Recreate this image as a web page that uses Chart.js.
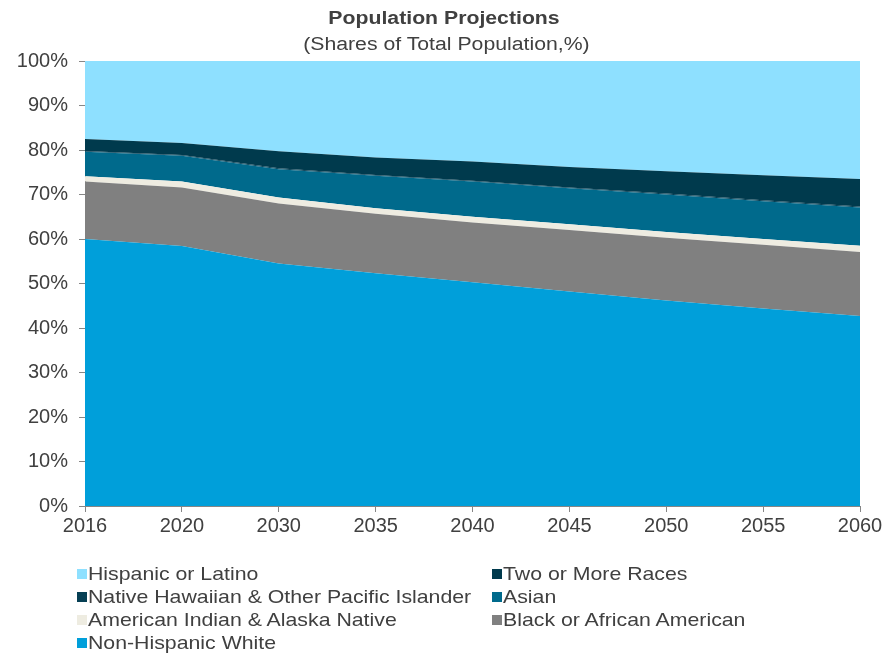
<!DOCTYPE html>
<html>
<head>
<meta charset="utf-8">
<script src="https://cdn.jsdelivr.net/npm/chart.js@4.4.1/dist/chart.umd.min.js"></script>
<style>
  html, body { margin: 0; padding: 0; background: #ffffff; }
  #wrap { position: relative; width: 896px; height: 654px; font-family: "Liberation Sans", Arial, sans-serif; color: #404040; }
  #c { position: absolute; left: 0; top: 0; }
  .title { position: absolute; left: 0; width: 896px; text-align: center; }
  .title span { display: inline-block; transform: scaleX(1.18); transform-origin: center; }
  #t1 { top: 8px; font-size: 18px; font-weight: bold; color: #404040; margin-left: -4px; }
  #t2 { top: 34px; font-size: 18px; color: #404040; margin-left: -2px; }
  .leg { position: absolute; font-size: 19px; line-height: 22px; white-space: nowrap; color: #404040; transform: scaleX(1.12); transform-origin: left center; }
  .sw { position: absolute; width: 10px; height: 10px; }
</style>
</head>
<body>
<div id="wrap">
  <canvas id="c" width="896" height="654"></canvas>
  <div class="title" id="t1"><span>Population Projections</span></div>
  <div class="title" id="t2"><span>(Shares of Total Population,%)</span></div>
  <div id="legend"></div>
</div>
<script>
// Categories (years)
const years = ["2016", "2020", "2030", "2035", "2040", "2045", "2050", "2055", "2060"];

// Shares of total population (%) — stacked bottom to top
const nonHispanicWhite = [60.0, 58.4, 54.5, 52.3, 50.3, 48.2, 46.2, 44.4, 42.7];
const blackAfricanAmerican = [12.9, 13.2, 13.5, 13.4, 13.4, 13.8, 14.1, 14.3, 14.4];
const americanIndianAlaska = [1.2, 1.3, 1.3, 1.2, 1.3, 1.3, 1.3, 1.3, 1.4];
const asian = [5.5, 5.8, 6.4, 7.3, 7.9, 8.1, 8.4, 8.5, 8.6];
const nativeHawaiianPacific = [0.2, 0.2, 0.2, 0.2, 0.2, 0.2, 0.2, 0.2, 0.2];
const twoOrMoreRaces = [2.7, 2.7, 3.8, 3.9, 4.3, 4.6, 5.0, 5.6, 6.2];
const hispanicLatino = [17.5, 18.4, 20.3, 21.7, 22.6, 23.8, 24.8, 25.7, 26.5];

// Y axis tick labels
const yTicks = ["0%", "10%", "20%", "30%", "40%", "50%", "60%", "70%", "80%", "90%", "100%"];

const seriesNames = [
  "Non-Hispanic White",
  "Black or African American",
  "American Indian & Alaska Native",
  "Asian",
  "Native Hawaiian & Other Pacific Islander",
  "Two or More Races",
  "Hispanic or Latino"
];
const seriesData = [nonHispanicWhite, blackAfricanAmerican, americanIndianAlaska, asian,
  nativeHawaiianPacific, twoOrMoreRaces, hispanicLatino];
const seriesColors = ["#009FDA", "#808080", "#EEECE1", "#006A8C", "#063F54", "#003A4D", "#8EE0FF"];

const datasets = seriesNames.map((name, i) => ({
  label: name,
  data: seriesData[i],
  backgroundColor: seriesColors[i],
  borderColor: seriesColors[i],
  borderWidth: 0,
  pointRadius: 0,
  pointHoverRadius: 0,
  tension: 0,
  fill: i === 0 ? 'origin' : '-1'
}));

const FONT = "'Liberation Sans', Arial, sans-serif";
const TXT = "#404040";
const AXIS = "#868686";

new Chart(document.getElementById('c'), {
  type: 'line',
  data: { labels: years, datasets },
  options: {
    responsive: false,
    animation: false,
    events: [],
    layout: { padding: { top: 61, right: 36, bottom: 108, left: 0 } },
    plugins: { legend: { display: false }, tooltip: { enabled: false }, title: { display: false } },
    scales: {
      x: {
        type: 'category',
        offset: false,
        grid: { drawOnChartArea: false, drawTicks: true, tickLength: 6, color: AXIS },
        border: { display: true, color: AXIS, width: 1 },
        ticks: { color: TXT, font: { family: FONT, size: 20 }, padding: 2, maxRotation: 0, autoSkip: false },
        afterFit: s => { s.height = 40; }
      },
      y: {
        stacked: true,
        min: 0, max: 100,
        grid: { drawOnChartArea: false, drawTicks: true, tickLength: 6, color: AXIS },
        border: { display: true, color: AXIS, width: 1 },
        ticks: {
          stepSize: 10,
          color: TXT,
          font: { family: FONT, size: 20 },
          padding: 11,
          callback: (v) => yTicks[Math.round(v / 10)]
        },
        afterFit: s => { s.width = 85; }
      }
    }
  }
});

// Legend (two columns, top series first)
const legend = document.getElementById('legend');
const order = [6, 5, 4, 3, 2, 1, 0];
order.forEach((idx, k) => {
  const col = k % 2, row = Math.floor(k / 2);
  const cy = 574 + row * 23;
  const x0 = col === 0 ? 77 : 492;
  const sw = document.createElement('div');
  sw.className = 'sw';
  sw.style.left = x0 + 'px';
  sw.style.top = (cy - 5) + 'px';
  sw.style.background = seriesColors[idx];
  legend.appendChild(sw);
  const t = document.createElement('div');
  t.className = 'leg';
  t.style.left = (x0 + 11) + 'px';
  t.style.top = (cy - 11) + 'px';
  t.textContent = seriesNames[idx];
  legend.appendChild(t);
});
</script>
</body>
</html>
